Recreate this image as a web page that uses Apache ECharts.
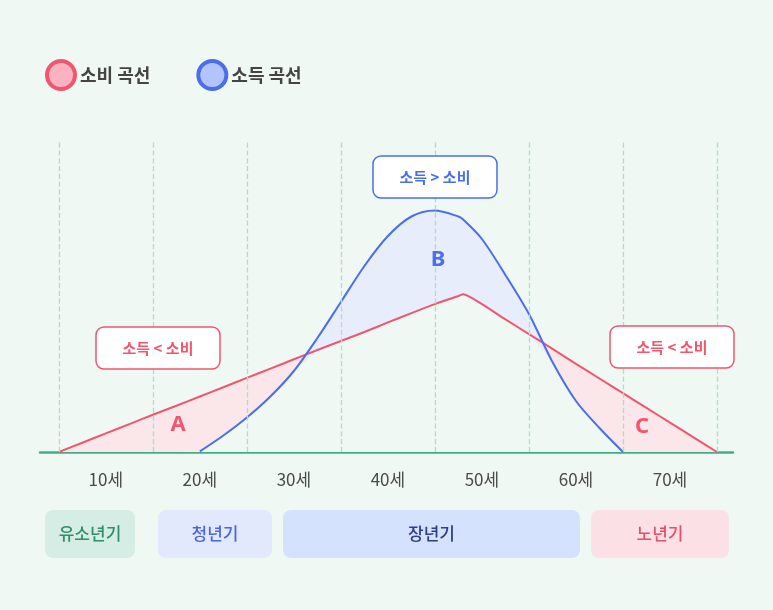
<!DOCTYPE html>
<html><head><meta charset="utf-8">
<script src="https://cdn.jsdelivr.net/npm/echarts@6/dist/echarts.min.js"></script>
<style>html,body{margin:0;padding:0;background:#f0f8f4}#c{width:773px;height:610px}</style>
</head><body><div id="c"></div>
<script>
var ages = [5,7.5,10,12.5,15,17.5,20,22.5,25,27.5,30,32.5,35,37.5,40,42.5,45,47.5,48,50,52.5,55,57.5,60,62.5,65,67.5,70,72.5,75];
var consumption = [0,3.1,6.2,9.3,12.4,15.4,18.5,21.6,24.7,27.8,30.9,34,37,40,43.2,46.3,49.3,52,52.6,49.3,44.2,39.3,34.4,29.4,24.5,19.6,14.7,9.8,4.9,0];
var incomeOnGrid = [0,0,0,0,0,0,0.2,5.5,11.5,18.5,27,38,50,62,72,78.5,80.5,78.5,77.5,71,59,46,30,17,8,0,0,0,0,0];
var tickAges = [10,20,30,40,50,60,70];
var dashAges = [5,15,25,35,45,55,65,75];
var stageNames = ['유소년기','청년기','장년기','노년기'];
var stageFills = ['#d5ede4','#e3e9fd','#d5e2fd','#fbe1e6'];
var stageColors = ['#2f8f6a','#4a66e0','#2e3f8a','#e2506c'];
var stageBoxes = [[45,135],[158,272],[283,580],[591,729]];

var RED='#f0566f', BLUE='#4a6fe8', BG='#f0f8f4';
var chart = echarts.init(document.getElementById('c'));
var graphics = [];
stageBoxes.forEach(function(bx,i){
  graphics.push({type:'rect',z:100,shape:{x:bx[0],y:510,width:bx[1]-bx[0],height:48,r:8},style:{fill:stageFills[i]}});
  graphics.push({type:'text',z:101,x:(bx[0]+bx[1])/2,y:534,style:{text:stageNames[i],fill:stageColors[i],font:'500 17px "Noto Sans CJK KR"',align:'center',verticalAlign:'middle'}});
});
function box(x,y,txt,col){
  graphics.push({type:'rect',z:100,shape:{x:x-62,y:y-21,width:124,height:42,r:8},style:{fill:'#fff',stroke:col,lineWidth:1.5}});
  graphics.push({type:'text',z:101,x:x,y:y,style:{text:txt,fill:col,font:'bold 15px "Noto Sans CJK KR"',align:'center',verticalAlign:'middle'}});
}
box(435,177,'소득 > 소비',BLUE);
box(158,348,'소득 < 소비',RED);
box(672,347,'소득 < 소비',RED);
[['A',178,425,RED],['B',438,260,BLUE],['C',642,427,RED]].forEach(function(l){
  graphics.push({type:'text',z:101,x:l[1],y:l[2],style:{text:l[0],fill:l[3],font:'bold 22px "Noto Sans"',align:'center',verticalAlign:'middle'}});
});

function poly(api, vals){
  var pts=[api.coord([ages[0],0])];
  for(var i=0;i<ages.length;i++) pts.push(api.coord([ages[i],vals[i]]));
  pts.push(api.coord([ages[ages.length-1],0]));
  return pts;
}
var minVals = consumption.map(function(r,i){return Math.min(r,incomeOnGrid[i]);});

chart.setOption({
  backgroundColor:BG,
  animation:false,
  legend:{left:40,top:54,itemWidth:28,itemHeight:28,itemGap:46,icon:'circle',selectedMode:false,
    textStyle:{fontSize:18,color:'#444',fontWeight:'bold',fontFamily:'Noto Sans CJK KR'},
    data:[{name:'소비 곡선',itemStyle:{color:'#fcb3bf',borderColor:RED,borderWidth:4}},
          {name:'소득 곡선',itemStyle:{color:'#b3c3fb',borderColor:BLUE,borderWidth:4}}]},
  grid:{left:40,right:40,top:140,bottom:158},
  xAxis:{type:'value',min:3,max:76.7,
    axisLine:{lineStyle:{color:'#3fae8a',width:2.5}},
    axisTick:{inside:true,length:7,lineStyle:{color:'#3fae8a',width:2},customValues:tickAges},
    axisLabel:{customValues:tickAges,formatter:function(v){return v+'세';},color:'#4a4a4a',fontSize:17,margin:19,fontFamily:'Noto Sans CJK KR'},
    splitLine:{show:false}},
  yAxis:{type:'value',min:0,max:104,show:false},
  series:[
    {type:'custom',silent:true,data:[[0]],z:1,renderItem:function(p,api){
      return {type:'group',children:[
        {type:'polygon',shape:{points:poly(api,consumption),smooth:0},style:{fill:'#fbe6ea'}},
        {type:'polygon',shape:{points:poly(api,incomeOnGrid)},style:{fill:'#e8edfc'}},
        {type:'polygon',shape:{points:poly(api,minVals)},style:{fill:BG}}
      ]};
    }},
    {type:'line',data:[],symbol:'none',silent:true,z:2,
      markLine:{symbol:'none',silent:true,label:{show:false},lineStyle:{type:'dashed',color:'#addfc8',width:1.3},
        data:dashAges.map(function(a){return [{coord:[a,0]},{coord:[a,104]}];})}},
    {type:'line',name:'소비 곡선',z:3,data:ages.map(function(a,i){return [a,consumption[i]];}),symbol:'none',smooth:0.2,lineStyle:{color:RED,width:2},itemStyle:{color:RED}},
    {type:'line',name:'소득 곡선',z:3,data:ages.slice(6,26).map(function(a,i){return [a,incomeOnGrid[i+6]];}),symbol:'none',smooth:0.3,lineStyle:{color:BLUE,width:2},itemStyle:{color:BLUE}}
  ],
  graphic:graphics
});
</script></body></html>
